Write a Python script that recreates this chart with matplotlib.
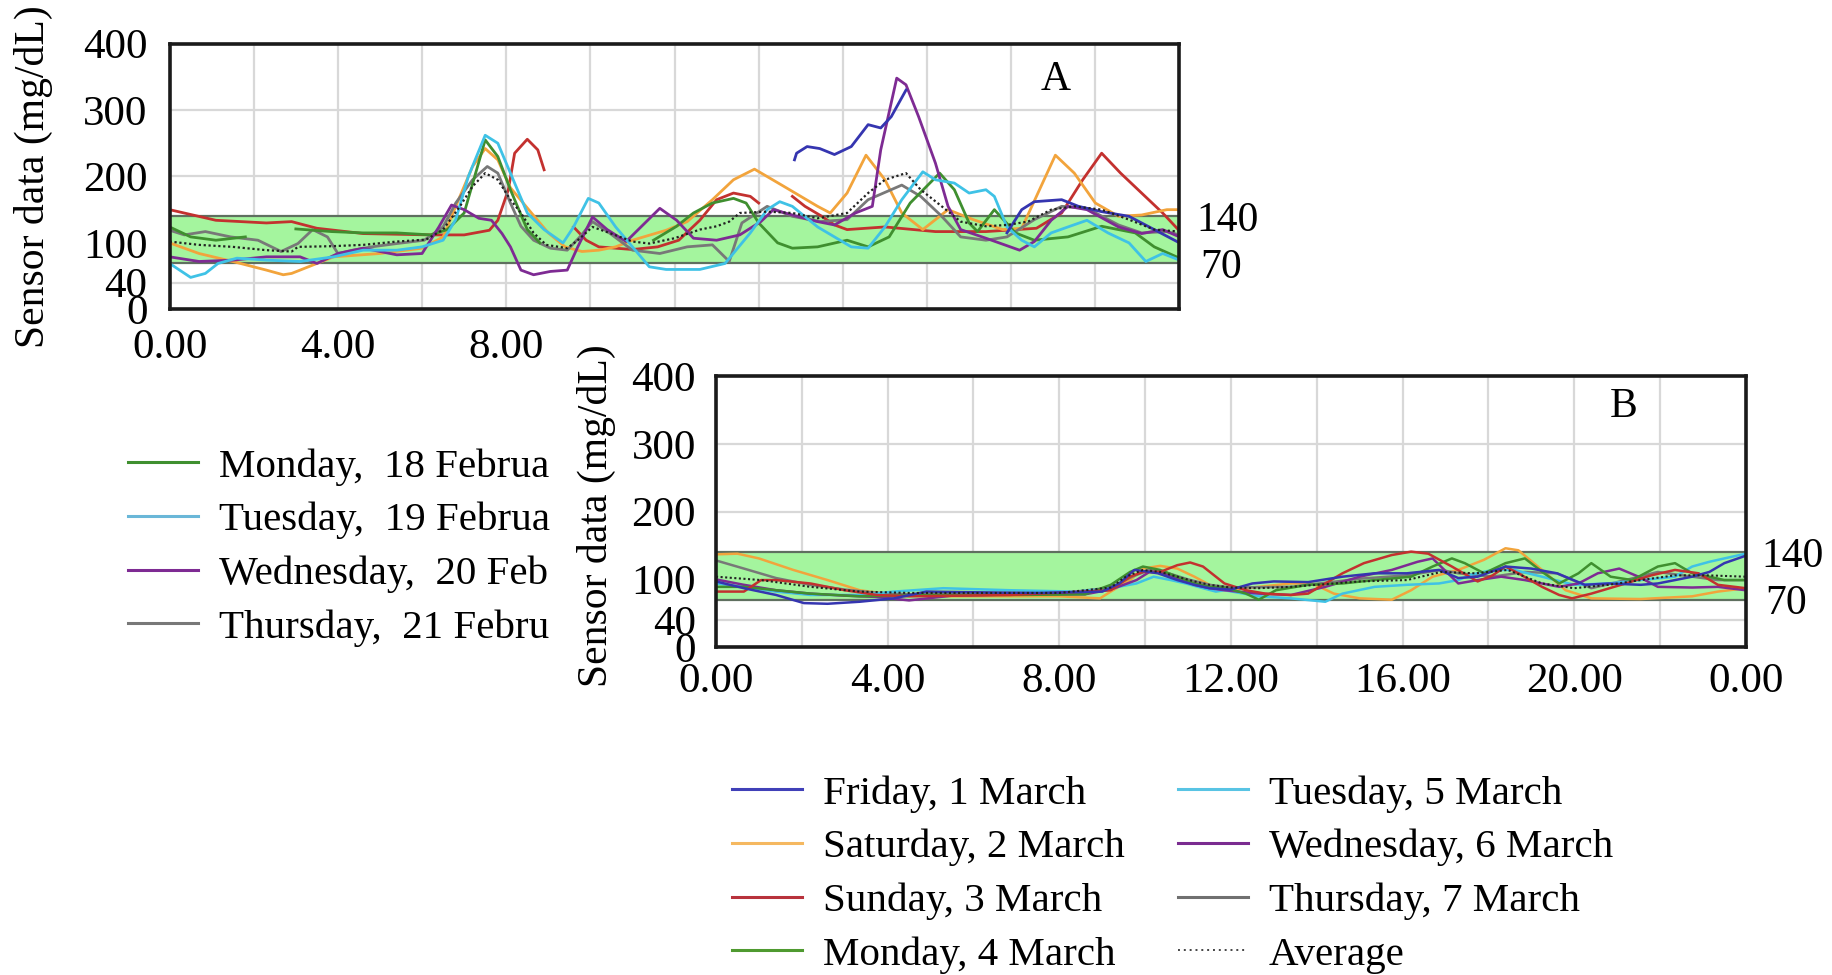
import numpy as np
import matplotlib
matplotlib.use("Agg")
import matplotlib.pyplot as plt
from matplotlib.lines import Line2D
from matplotlib.patches import Rectangle
from matplotlib.transforms import blended_transform_factory

nan = np.nan

# ── data: panel A (18-24 February) ────────────────────────────────────────────
a_red_h = [0, 1.1, 2.3, 2.9, 3.5, 4.6, 6.2, 7.0, 7.6, 7.8, 8.05, 8.2, 8.5, 8.75, 8.9, nan,
           9.6, 9.9, 10.2, 11.0, 11.6, 12.1, 12.6, 13.0, 13.4, 13.8, 14.0, nan,
           14.8, 15.1, 15.5, 15.8, 16.1, 17.0, 18.2, 19.4, 20.6, 21.2, 21.7, 22.15, 22.6, 23.1, 23.6, 24.0]
a_red_v = [150, 134, 130, 132, 122, 114, 112, 112, 119, 134, 180, 235, 256, 240, 210, nan,
           124, 104, 94, 90, 94, 104, 134, 165, 175, 170, 160, nan,
           170, 155, 140, 127, 120, 124, 117, 117, 122, 145, 195, 235, 205, 175, 145, 118]

a_orange_h = [0, 0.7, 1.5, 2.3, 2.7, 2.9, 3.5, 3.9, 5.0, 6.0, 6.5, 6.9, 7.2, 7.5, 7.8, 8.1, 8.6, 9.0,
              9.4, 9.8, 10.2, 10.6, 11.0, 11.8, 12.3, 12.9, 13.4, 13.9, 14.6, 15.4, 15.7, 16.1,
              16.55, 17.0, 17.4, 17.9, 18.5, 19.1, 19.8, 20.25, 20.6, 21.05, 21.5, 22.0, 22.55,
              23.1, 23.7, 24.0]
a_orange_v = [100, 84, 72, 59, 52, 54, 69, 79, 84, 92, 109, 170, 215, 242, 225, 183, 145, 115,
              94, 87, 89, 94, 104, 119, 132, 165, 195, 211, 185, 155, 145, 175,
              232, 195, 145, 120, 150, 135, 120, 122, 170, 232, 205, 160, 140,
              142, 150, 150]

a_cyan_h = [0, 0.5, 0.85, 1.15, 1.6, 2.3, 3.1, 3.9, 4.6, 5.4, 6.0, 6.5, 6.8, 7.1, 7.5, 7.8, 8.1,
            8.5, 8.9, 9.35, 9.6, 9.95, 10.2, 10.6, 11.0, 11.4, 11.8, 12.6, 13.2, 13.8, 14.2, 14.5,
            14.8, 15.4, 16.2, 16.6, 17.0, 17.4, 17.9, 18.2, 18.65, 19.0, 19.4, 19.6, 19.9, 20.25,
            20.55, 20.95, 21.35, 21.8, 22.3, 22.8, 23.2, 23.6, 24.0]
a_cyan_v = [69, 48, 54, 69, 77, 74, 72, 79, 89, 89, 94, 104, 135, 200, 262, 250, 205,
            145, 120, 100, 124, 167, 160, 124, 94, 64, 60, 60, 69, 115, 150, 162,
            155, 124, 94, 92, 124, 165, 207, 195, 190, 175, 180, 170, 124, 104,
            94, 115, 124, 134, 115, 100, 72, 84, 74]

a_purple_h = [0, 0.7, 1.5, 2.3, 3.1, 3.5, 4.0, 4.6, 5.4, 6.0, 6.4, 6.7, 7.0, 7.35, 7.65, 7.9,
              8.1, 8.35, 8.65, 9.05, 9.45, 9.7, 10.05, 10.4, 10.85, 11.25, 11.65, 12.05, 12.45,
              13.0, 13.55, 14.05, 14.35, 14.8, 15.4, 15.8, 16.3, 16.7, 16.9, 17.28, 17.5, 17.8,
              18.2, 18.5, 18.8, 19.4, 20.2, 20.55, 20.95, 21.35, 21.8, 22.55, 23.1, 23.6, 24.0]
a_purple_v = [79, 72, 74, 79, 79, 69, 84, 92, 82, 84, 124, 157, 150, 137, 134, 114,
              94, 59, 52, 57, 59, 94, 139, 120, 102, 127, 152, 134, 107,
              104, 112, 132, 150, 142, 132, 127, 145, 155, 240, 348, 338, 290,
              220, 155, 120, 107, 89, 102, 134, 155, 150, 124, 114, 120, 109]

a_blue_h = [14.85, 14.9, 15.15, 15.45, 15.8, 16.2, 16.6, 16.9, 17.15, 17.5, nan,
            19.9, 20.25, 20.55, 21.2, 21.6, 22.15, 22.8, 23.4, 24.0]
a_blue_v = [225, 235, 245, 242, 233, 245, 278, 273, 290, 330, nan,
            115, 150, 162, 165, 155, 147, 140, 120, 100]

a_gray_h = [0, 0.35, 0.85, 1.45, 2.1, 2.65, 3.05, 3.4, 3.75, 4.0, 4.35, 4.8, 5.4, 6.05, 6.5, 6.8,
            7.2, 7.55, 7.8, 8.1, 8.35, 8.65, 9.05, 9.45, 9.75, 10.05, 10.45, 11.0, 11.65, 12.3,
            12.9, 13.3, 13.6, 14.2, 14.8, 15.45, 16.1, 16.6, 17.4, 17.85, 18.35, 18.8, 19.4,
            19.9, 20.55, 21.2, 21.8, 22.55, 23.1, 23.7, 24.0]
a_gray_v = [119, 112, 117, 109, 104, 87, 99, 120, 109, 84, 89, 94, 99, 104, 124, 160,
            195, 215, 205, 160, 125, 104, 92, 89, 109, 132, 115, 89, 84, 94,
            97, 72, 130, 155, 140, 132, 135, 165, 187, 170, 140, 109, 104,
            109, 135, 155, 152, 127, 115, 117, 112]

a_green_h = [0, 0.5, 1.1, 1.8, nan, 3.0, 3.85, 4.6, 5.4, 6.2, 6.6, 7.0, 7.25, 7.5, 7.8, 8.1, 8.5,
             8.8, nan, 11.5, 12.05, 12.45, 12.9, 13.4, 13.7, 14.0, 14.45, 14.8, 15.4, 16.1, 16.6,
             17.1, 17.6, 18.3, 18.65, 19.0, 19.2, 19.6, 20.1, 20.55, 21.35, 22.15, 22.95, 23.4, 24.0]
a_green_v = [124, 109, 104, 109, nan, 121, 117, 115, 115, 112, 120, 145, 200, 255, 230, 180, 120,
             100, nan, 104, 125, 145, 160, 167, 160, 130, 100, 92, 94, 104, 94,
             109, 160, 205, 180, 130, 117, 150, 115, 104, 109, 125, 115, 94, 77]

a_avg_h = [0, 0.7, 1.5, 2.3, 2.9, 3.05, 3.85, 4.6, 5.4, 6.1, 6.5, 6.9, 7.2, 7.5, 7.8, 8.1, 8.35,
           8.65, 8.95, 9.45, 9.7, 10.05, 10.45, 11.0, 11.4, 12.0, 12.6, 13.0, 13.3, 13.55, 14.2,
           14.8, 15.4, 16.1, 16.6, 17.0, 17.5, 17.85, 18.35, 18.8, 19.4, 19.9, 20.4, 20.95, 21.5,
           22.15, 22.8, 23.4, 24.0]
a_avg_v = [102, 97, 94, 89, 87, 94, 95, 97, 102, 105, 120, 155, 185, 205, 195, 165, 145,
           115, 97, 92, 104, 124, 115, 102, 99, 107, 120, 125, 132, 145, 147,
           145, 137, 145, 175, 195, 205, 180, 155, 132, 125, 127, 132, 150, 155,
           150, 135, 120, 117]

# ── data: panel B (1-7 March) ─────────────────────────────────────────────────
b_blue_h = [0, 0.65, 1.4, 2.05, 2.6, 3.35, 4.15, 4.9, 6.0, 7.5, 9.0, 9.4, 9.75, 10.0, 10.3, 10.75,
            11.15, 11.5, 12.0, 12.5, 13.0, 13.8, 14.6, 15.35, 16.1, 16.85, 17.3, 17.75, 18.4,
            19.0, 19.6, 20.25, 20.8, 21.55, 21.95, 22.35, 22.75, 23.15, 23.5, 24.0]
b_blue_v = [97, 87, 77, 65, 64, 67, 72, 82, 81, 80, 82, 94, 114, 112, 109, 99,
            92, 87, 85, 94, 97, 96, 104, 109, 109, 114, 102, 104, 119,
            116, 109, 92, 94, 92, 94, 99, 104, 111, 124, 135]

b_orange_h = [0, 0.5, 1.0, 1.8, 2.6, 3.35, 4.15, 5.3, 6.85, 8.0, 8.95, 9.2, 9.65, 9.95, 10.35,
              10.75, 11.15, 11.5, 11.85, 12.65, 13.4, 13.9, 14.4, 15.0, 15.75, 16.2, 16.7, 17.3,
              17.9, 18.4, 18.7, 19.25, 19.8, 20.4, 21.55, 22.75, 23.35, 24.0]
b_orange_v = [137, 138, 131, 114, 99, 84, 77, 75, 75, 75, 72, 82, 99, 116, 120,
              116, 104, 92, 84, 89, 94, 94, 79, 72, 70, 84, 104, 114,
              129, 146, 143, 114, 84, 72, 71, 75, 82, 87]

b_red_h = [0, 0.65, 1.05, 1.4, 2.2, 3.0, 3.75, 4.5, 6.85, 9.2, 9.65, 9.95, 10.35, 10.75, 11.05,
           11.35, 11.65, 11.85, 12.35, 12.8, 13.4, 13.8, 14.2, 14.6, 15.1, 15.75, 16.2, 16.6,
           17.15, 17.75, 18.1, 18.4, 18.7, 19.25, 19.65, 19.95, 20.4, 21.2, 21.8, 22.35, 22.9,
           23.35, 24.0]
b_red_v = [82, 82, 99, 99, 94, 84, 77, 75, 77, 84, 104, 111, 111, 121, 125,
           119, 104, 94, 84, 79, 77, 79, 94, 109, 124, 136, 141, 138,
           119, 97, 106, 119, 109, 89, 77, 72, 79, 94, 106, 114, 109,
           92, 87]

b_green_h = [0, 0.65, 1.4, 2.2, 3.35, 5.0, 7.0, 8.6, 9.2, 9.65, 9.95, 10.35, 10.75, 11.15, 11.5,
             11.85, 12.35, 12.65, 13.05, 13.8, 14.6, 15.35, 16.2, 16.7, 17.15, 17.45, 17.9, 18.4,
             18.85, 19.3, 19.65, 20.1, 20.4, 20.85, 21.35, 21.95, 22.35, 22.75, 23.15, 23.5, 24.0]
b_green_v = [89, 89, 84, 79, 75, 77, 77, 78, 92, 111, 119, 114, 104, 94, 89,
             88, 79, 70, 84, 92, 94, 99, 104, 119, 131, 124, 109, 124,
             131, 109, 94, 109, 124, 104, 99, 119, 124, 109, 104, 99, 99]

b_cyan_h = [0, 0.65, 1.4, 2.2, 3.35, 4.15, 5.3, 6.85, 8.4, 9.2, 9.8, 10.2, 10.6, 10.95, 11.35,
            11.65, 11.85, 12.65, 13.4, 14.2, 14.6, 15.35, 16.1, 16.85, 17.3, 17.6, 18.1, 18.6,
            19.25, 20.0, 20.8, 21.55, 22.35, 22.75, 23.15, 23.5, 24.0]
b_cyan_v = [94, 89, 82, 77, 77, 82, 87, 84, 82, 87, 94, 104, 99, 94, 87,
            82, 84, 75, 72, 67, 79, 89, 92, 94, 99, 107, 114, 114,
            104, 92, 94, 99, 104, 119, 126, 131, 138]

b_purple_h = [0, 0.65, 1.4, 2.2, 3.0, 3.75, 4.5, 5.5, 7.0, 8.6, 9.2, 9.8, 10.1, 10.45, 10.75,
              11.15, 11.5, 11.85, 12.65, 13.4, 14.2, 15.0, 15.75, 16.35, 16.7, 17.3, 17.75, 18.3,
              18.85, 19.25, 19.65, 20.1, 20.55, 21.05, 21.5, 21.95, 22.75, 23.35, 24.0]
b_purple_v = [100, 92, 84, 79, 76, 74, 69, 76, 78, 78, 85, 99, 111, 109, 102,
              92, 87, 84, 79, 77, 89, 104, 114, 126, 131, 94, 99, 104,
              99, 94, 89, 94, 109, 116, 104, 89, 88, 89, 84]

b_gray_h = [0, 0.65, 1.4, 2.2, 3.0, 3.75, 4.5, 6.0, 8.0, 9.2, 9.7, 10.1, 10.5, 11.0, 11.5, 12.0,
            13.4, 14.2, 15.0, 16.1, 16.9, 17.3, 18.1, 18.85, 19.6, 20.4, 21.2, 21.95, 22.75,
            23.35, 24.0]
b_gray_v = [128, 116, 102, 92, 85, 80, 78, 78, 79, 88, 104, 114, 110, 100, 92, 88,
            89, 95, 101, 106, 114, 109, 104, 111, 109, 87, 99, 111, 104,
            99, 99]

b_avg_h = [0, 1.05, 2.2, 3.35, 4.5, 6.0, 8.0, 9.2, 9.55, 9.95, 10.35, 10.75, 11.15, 11.5, 12.0,
           12.65, 13.4, 14.2, 15.0, 16.1, 16.9, 17.7, 18.45, 19.25, 20.0, 20.8, 21.55, 22.35,
           23.1, 24.0]
b_avg_v = [104, 99, 89, 82, 80, 80, 80, 88, 104, 114, 111, 104, 97, 92, 88,
           87, 89, 93, 97, 99, 111, 109, 114, 94, 87, 92, 99, 106,
           106, 104]

# ── axis labels / legend text ─────────────────────────────────────────────────
grid_hours = list(range(0, 25, 2))
a_xtick_labels = ["0.00", "", "4.00", "", "8.00", "", "", "", "", "", "", "", ""]
b_xtick_labels = ["0.00", "", "4.00", "", "8.00", "", "12.00", "", "16.00", "", "20.00", "", "0.00"]
y_ticks = [0, 40, 100, 200, 300, 400]
target_low, target_high = 70, 140

# legend A is partly hidden behind panel B in the source figure
a_legend_labels = ["Monday,  18 Februa", "Tuesday,  19 Februa",
                   "Wednesday,  20 Feb", "Thursday,  21 Febru"]
b_legend_col1 = ["Friday, 1 March", "Saturday, 2 March", "Sunday, 3 March", "Monday, 4 March"]
b_legend_col2 = ["Tuesday, 5 March", "Wednesday, 6 March", "Thursday, 7 March", "Average"]

# ── styles ────────────────────────────────────────────────────────────────────
C_GREEN  = "#3f8f2f"
C_CYAN   = "#3fc2e6"
C_PURPLE = "#7e2b93"
C_GRAY   = "#787878"
C_BLUE   = "#3535b0"
C_ORANGE = "#f2a43c"
C_RED    = "#c3312f"
BAND     = "#a4f59e"
BAND_EDGE = "#5f6f5f"
FS = 30        # labels, legends
FS_TICK = 31

plt.rcParams["font.family"] = ["Liberation Serif", "DejaVu Serif"]

W, H = 1833, 975
fig = plt.figure(figsize=(W / 100, H / 100), dpi=100)


def px_axes(left, top, right, bottom):
    return [left / W, 1 - bottom / H, (right - left) / W, (bottom - top) / H]


def setup_panel(ax, xlabels, letter, letter_xy, xpad, ypad, right_x):
    ax.set_xlim(0, 24)
    ax.set_ylim(0, 400)
    ax.set_axisbelow(True)
    ax.grid(color="#d8d8d8", lw=1.6)
    ax.axhspan(target_low, target_high, facecolor=BAND, edgecolor="none", zorder=1)
    for yv in (target_low, target_high):
        ax.axhline(yv, color=BAND_EDGE, lw=1.6, zorder=1.5)
    ax.set_xticks(grid_hours)
    ax.set_xticklabels(xlabels)
    ax.set_yticks(y_ticks)
    ax.set_yticklabels([str(v) for v in y_ticks])
    ax.tick_params(axis="both", length=0, labelsize=FS_TICK)
    ax.tick_params(axis="x", pad=xpad)
    ax.tick_params(axis="y", pad=ypad)
    for s in ax.spines.values():
        s.set_linewidth(2.6)
        s.set_color("#1a1a1a")
    ax.text(letter_xy[0], letter_xy[1], letter, fontsize=FS, ha="center", va="center")
    tr = blended_transform_factory(ax.transAxes, ax.transData)
    ax.text(right_x, target_high, str(target_high), fontsize=FS, ha="left",
            va="center_baseline", transform=tr, clip_on=False)
    ax.text(right_x + 0.004, target_low, str(target_low), fontsize=FS, ha="left",
            va="center_baseline", transform=tr, clip_on=False)


def legend_at(handles, labels, x_px, y_px):
    return fig.legend(handles, labels, loc="upper left", bbox_to_anchor=(x_px / W, 1 - y_px / H),
                      frameon=False, fontsize=FS - 0.5, handlelength=1.72, handletextpad=0.5,
                      labelspacing=0.39, borderpad=0, borderaxespad=0)


# ── panel A ───────────────────────────────────────────────────────────────────
axA = fig.add_axes(px_axes(169.6, 43.6, 1179.5, 309.3))
for h, v, c in [(a_red_h, a_red_v, C_RED), (a_orange_h, a_orange_v, C_ORANGE),
                (a_gray_h, a_gray_v, C_GRAY), (a_green_h, a_green_v, C_GREEN),
                (a_purple_h, a_purple_v, C_PURPLE), (a_cyan_h, a_cyan_v, C_CYAN),
                (a_blue_h, a_blue_v, C_BLUE)]:
    axA.plot(h, v, color=c, lw=2.0, zorder=2, solid_joinstyle="round")
axA.plot(a_avg_h, a_avg_v, color="#222222", lw=1.6, ls=(0, (1, 1.2)), zorder=2.5)
setup_panel(axA, a_xtick_labels, "A", (21.05, 345), 14, 16, 1.0163)
axA.set_ylabel("Sensor data (mg/dL)", fontsize=FS)
axA.yaxis.set_label_coords(-0.1155, 0.50)

a_handles = [Line2D([], [], color=c, lw=2.2) for c in (C_GREEN, "#6ab7d8", C_PURPLE, C_GRAY)]
legA = legend_at(a_handles, a_legend_labels, 128, 448)

# panel B sits on a white sheet that hides the right part of legend A
fig.add_artist(Rectangle((553 / W, 0), 1, 1 - 330 / H, transform=fig.transFigure,
                         facecolor="white", edgecolor="none", zorder=6))

# ── panel B ───────────────────────────────────────────────────────────────────
axB = fig.add_axes(px_axes(716, 376.3, 1745.8, 647.1))
axB.set_zorder(7)
for h, v, c in [(b_orange_h, b_orange_v, C_ORANGE), (b_gray_h, b_gray_v, C_GRAY),
                (b_cyan_h, b_cyan_v, C_CYAN), (b_purple_h, b_purple_v, C_PURPLE),
                (b_green_h, b_green_v, C_GREEN), (b_red_h, b_red_v, C_RED),
                (b_blue_h, b_blue_v, C_BLUE)]:
    axB.plot(h, v, color=c, lw=1.8, zorder=2, solid_joinstyle="round")
axB.plot(b_avg_h, b_avg_v, color="#222222", lw=1.5, ls=(0, (1, 1.2)), zorder=2.5)
setup_panel(axB, b_xtick_labels, "B", (21.15, 355), 11, 14.5, 1.0148)
axB.set_ylabel("Sensor data (mg/dL)", fontsize=FS)
axB.yaxis.set_label_coords(-0.097, 0.486)

b_colors1 = ["#4040b8", "#f5b860", "#b8323c", "#4f9a30"]
b_colors2 = ["#58c4e4", "#7a2c90", "#707070"]
h1 = [Line2D([], [], color=c, lw=2.2) for c in b_colors1]
h2 = [Line2D([], [], color=c, lw=2.2) for c in b_colors2]
h2.append(Line2D([], [], color="#444444", lw=1.4, ls=(0, (1, 2))))
for handles, labels, x0 in [(h1, b_legend_col1, 732), (h2, b_legend_col2, 1178)]:
    leg = legend_at(handles, labels, x0, 775)
    leg.set_zorder(8)

fig.savefig("out.png", dpi=100)
